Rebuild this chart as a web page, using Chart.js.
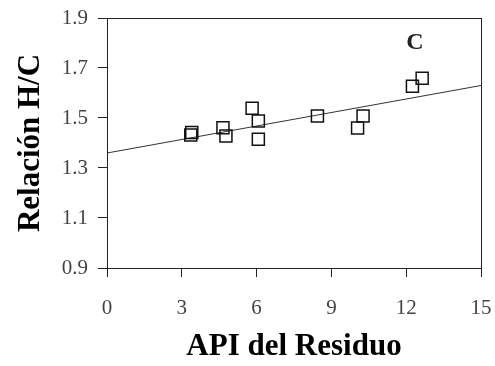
<!DOCTYPE html>
<html>
<head>
<meta charset="utf-8">
<script src="https://cdn.jsdelivr.net/npm/chart.js@4"></script>
<style>
  html, body { margin: 0; padding: 0; background: #fff; }
  #wrap { width: 495px; height: 366px; }
</style>
</head>
<body>
<div id="wrap"><canvas id="myScatter"></canvas></div>
<script>
// data
let apiResiduo = [3.36, 3.40, 4.65, 4.77, 5.82, 6.07, 6.07, 8.44, 10.05, 10.27, 12.25, 12.64];
let relacionHC = [1.432, 1.442, 1.461, 1.428, 1.539, 1.488, 1.415, 1.508, 1.460, 1.508, 1.627, 1.659];

// trend line end points
let lineX = [0, 15];
let lineY = [1.36, 1.63];

let xTicks = [0, 3, 6, 9, 12, 15];
let yTicks = [0.9, 1.1, 1.3, 1.5, 1.7, 1.9];

let seriesLabel = ["C"];
let labelPos = [12.35, 1.80];

let points = apiResiduo.map((x, i) => ({ x: x, y: relacionHC[i] }));
let trend = lineX.map((x, i) => ({ x: x, y: lineY[i] }));

// frame round the plot + the "C" tag
let framePlugin = {
    id: 'frame',
    afterDraw(chart) {
        let ctx = chart.ctx;
        let a = chart.chartArea;
        ctx.save();
        ctx.strokeStyle = '#222';
        ctx.lineWidth = 1;
        ctx.strokeRect(a.left + 0.5, a.top + 0.5, a.right - a.left, a.bottom - a.top);
        ctx.fillStyle = '#222';
        ctx.font = 'bold 24px "Liberation Serif"';
        ctx.textAlign = 'center';
        ctx.textBaseline = 'middle';
        ctx.fillText(seriesLabel[0], chart.scales.x.getPixelForValue(labelPos[0]), chart.scales.y.getPixelForValue(labelPos[1]));
        ctx.restore();
    }
};

let ctx = document.getElementById('myScatter').getContext('2d');
let myChart = new Chart(ctx, {
    type: 'scatter',
    data: {
        datasets: [{
            data: points,
            pointStyle: 'rect',
            pointRadius: 8.5,
            pointHoverRadius: 8.5,
            borderColor: '#111',
            backgroundColor: 'rgba(255,255,255,0)',
            borderWidth: 1.5,
        }, {
            type: 'line',
            data: trend,
            borderColor: '#333',
            borderWidth: 1,
            pointRadius: 0,
            fill: false,
        }]
    },
    options: {
        responsive: true,
        maintainAspectRatio: false,
        animation: false,
        events: [],
        layout: { padding: { left: 0, top: 18, right: 14, bottom: 0 } },
        plugins: {
            legend: { display: false },
            tooltip: { enabled: false },
        },
        scales: {
            x: {
                type: 'linear',
                min: 0,
                max: 15,
                afterBuildTicks: (s) => { s.ticks = xTicks.map(v => ({ value: v })); },
                afterFit: (s) => { s.height = 98; s.paddingLeft = 0; s.paddingRight = 0; },
                grid: { drawOnChartArea: false, drawTicks: true, tickLength: 9, color: '#222' },
                border: { color: '#222', width: 1 },
                ticks: {
                    color: '#444',
                    padding: 19,
                    maxRotation: 0,
                    font: { family: '"Liberation Serif"', size: 21 },
                },
                title: {
                    display: true,
                    text: 'API del Residuo',
                    color: '#000',
                    padding: { top: 4, bottom: 0 },
                    font: { family: '"Liberation Serif"', size: 31, weight: 'bold' },
                },
            },
            y: {
                type: 'linear',
                min: 0.9,
                max: 1.9,
                afterBuildTicks: (s) => { s.ticks = yTicks.map(v => ({ value: v })); },
                afterFit: (s) => { s.width = 107; s.paddingTop = 0; s.paddingBottom = 0; },
                grid: { drawOnChartArea: false, drawTicks: true, tickLength: 9, color: '#222' },
                border: { color: '#222', width: 1 },
                ticks: {
                    color: '#444',
                    padding: 10,
                    callback: (v) => v.toFixed(1),
                    font: { family: '"Liberation Serif"', size: 21 },
                },
                title: {
                    display: true,
                    text: 'Relación H/C',
                    color: '#000',
                    padding: { top: 12, bottom: 4 },
                    font: { family: '"Liberation Serif"', size: 31, weight: 'bold' },
                },
            },
        },
    },
    plugins: [framePlugin],
});
</script>
</body>
</html>
